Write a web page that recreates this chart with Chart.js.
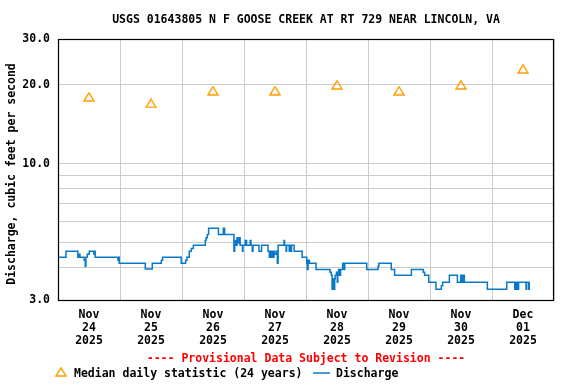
<!DOCTYPE html>
<html>
<head>
<meta charset="utf-8">
<script src="https://cdn.jsdelivr.net/npm/chart.js@4.4.0/dist/chart.umd.min.js"></script>
<style>
  html, body { margin: 0; padding: 0; background: #fff; }
</style>
</head>
<body>
<canvas id="chart" width="576" height="384"></canvas>
<script>
const siteTitle = 'USGS 01643805 N F GOOSE CREEK AT RT 729 NEAR LINCOLN, VA';
const yAxisTitle = 'Discharge, cubic feet per second';
const noticeText = '---- Provisional Data Subject to Revision ----';
const medianLabel = 'Median daily statistic (24 years)';
const dischargeLabel = 'Discharge';

// x values are hours after Nov 24 2025 00:00
const tickMonths = ['Nov', 'Nov', 'Nov', 'Nov', 'Nov', 'Nov', 'Nov', 'Dec'];
const tickDays = ['24', '25', '26', '27', '28', '29', '30', '01'];
const tickYears = ['2025', '2025', '2025', '2025', '2025', '2025', '2025', '2025'];

const medianHours = [12, 36, 60, 84, 108, 132, 156, 180];
const medianValues = [18, 17, 19, 19, 20, 19, 20, 23];

const dischargeHours = [
  0, 3.1, 7.7, 8.0, 8.5, 10.1, 10.55, 10.8, 11.3, 12.1, 13.9, 14.2, 14.4,
  23.2, 23.45, 23.7, 33.8, 36.5, 40.0, 40.5, 47.7, 49.4, 49.9, 50.8, 51.6, 52.4,
  57.0, 57.3, 57.8, 58.3, 62.1, 64.0, 64.5, 68.1, 68.4, 69.0, 69.3, 69.7, 70.1,
  70.5, 71.4, 71.6, 72.5, 73.0, 74.4, 74.7, 75.2, 75.5, 77.8, 78.8, 81.3, 81.8,
  82.1, 82.4, 82.8, 83.2, 83.6, 84.0, 84.7, 84.9, 85.2, 87.5, 87.7, 88.3, 88.5,
  89.5, 89.7, 90.2, 90.4, 91.4, 94.5, 96.3, 96.5, 96.8, 97.3, 99.9, 105.3,
  105.8, 106.1, 106.3, 106.8, 107.1, 107.3, 107.8, 108.1, 108.3, 108.6, 109.1,
  109.4, 110.2, 110.8, 111.0, 119.5, 123.9, 124.2, 129.0, 130.3, 136.8, 141.4,
  141.9, 143.5, 146.3, 148.4, 148.9, 151.5, 154.6, 155.9, 156.2, 156.8, 157.3,
  166.2, 173.7, 176.8, 177.3, 177.8, 178.3, 181.2, 181.4, 182.2, 182.4, 182.6
];
const dischargeValues = [
  4.37, 4.61, 4.37, 4.49, 4.37, 4.26, 4.04, 4.37, 4.49, 4.61, 4.49, 4.61, 4.37,
  4.26, 4.37, 4.15, 3.94, 4.15, 4.26, 4.37, 4.15, 4.26, 4.37, 4.61, 4.73, 4.86,
  5.07, 5.20, 5.35, 5.65, 5.35, 5.65, 5.35, 4.61, 5.07, 4.86, 5.20, 4.96, 5.20,
  4.86, 4.61, 4.86, 5.07, 4.86, 5.07, 4.86, 4.61, 4.86, 4.61, 4.86, 4.61, 4.37,
  4.61, 4.37, 4.61, 4.37, 4.61, 4.49, 4.61, 4.15, 4.86, 5.07, 4.86, 4.61, 4.86,
  4.61, 4.86, 4.61, 4.86, 4.61, 4.37, 4.15, 3.93, 4.26, 4.15, 3.93, 3.83,
  3.73, 3.30, 3.62, 3.30, 3.62, 3.73, 3.83, 3.51, 3.73, 3.93, 3.73,
  3.93, 4.15, 3.93, 4.15, 3.93, 4.04, 4.15, 3.93, 3.73, 3.93, 3.83,
  3.73, 3.51, 3.30, 3.40, 3.51, 3.73, 3.51, 3.73, 3.51, 3.73, 3.51,
  3.30, 3.51, 3.30, 3.51, 3.30, 3.51, 3.30, 3.51, 3.30, 3.51, 3.51
];

const yGridValues = [3, 4, 5, 6, 7, 8, 9, 10, 20, 30];
const yLabelValues = [3, 10, 20, 30];

const FONT = '"DejaVu Sans Mono", monospace';
const GRID = '#cccccc';
const ORANGE = '#ff9f00';
const BLUE = '#0a78c8';

function makeTriangle() {
  const c = document.createElement('canvas');
  c.width = 12;
  c.height = 10;
  const g = c.getContext('2d');
  g.strokeStyle = ORANGE;
  g.lineWidth = 1.4;
  g.beginPath();
  g.moveTo(6, 0.8);
  g.lineTo(11, 9);
  g.lineTo(1, 9);
  g.closePath();
  g.stroke();
  return c;
}
const triangle = makeTriangle();

const decorations = {
  id: 'decorations',
  afterDraw(chart) {
    const ctx = chart.ctx;
    const a = chart.chartArea;
    const cx = (a.left + a.right) / 2;
    ctx.save();

    ctx.strokeStyle = '#000';
    ctx.lineWidth = 1.2;
    ctx.strokeRect(a.left + 0.5, a.top + 0.5, a.right - a.left - 1, a.bottom - a.top);

    ctx.font = 'bold 11.5px ' + FONT;
    ctx.fillStyle = '#000';
    ctx.textAlign = 'center';
    ctx.textBaseline = 'middle';
    ctx.fillText(siteTitle, cx, 20);

    ctx.save();
    ctx.translate(12, 174);
    ctx.rotate(-Math.PI / 2);
    ctx.fillText(yAxisTitle, 0, 0);
    ctx.restore();

    ctx.fillStyle = '#ff0000';
    ctx.fillText(noticeText, cx, 359);

    ctx.drawImage(triangle, 61 - 6, 372 - 5);
    ctx.fillStyle = '#000';
    ctx.textAlign = 'left';
    ctx.fillText(medianLabel, 74, 374);
    ctx.strokeStyle = BLUE;
    ctx.lineWidth = 1.5;
    ctx.beginPath();
    ctx.moveTo(313, 373);
    ctx.lineTo(330, 373);
    ctx.stroke();
    ctx.fillText(dischargeLabel, 336, 374);

    ctx.restore();
  }
};

new Chart(document.getElementById('chart'), {
  type: 'line',
  data: {
    datasets: [
      {
        label: medianLabel,
        data: medianHours.map((h, i) => ({ x: h, y: medianValues[i] })),
        showLine: false,
        pointStyle: triangle,
        pointRadius: 5,
        pointHoverRadius: 5
      },
      {
        label: dischargeLabel,
        data: dischargeHours.map((h, i) => ({ x: h, y: dischargeValues[i] })),
        stepped: true,
        borderColor: BLUE,
        borderWidth: 1.5,
        pointRadius: 0,
        fill: false
      }
    ]
  },
  options: {
    responsive: false,
    animation: false,
    devicePixelRatio: 1,
    layout: { padding: { left: 0, right: 22, top: 39, bottom: 34 } },
    plugins: {
      legend: { display: false },
      title: { display: false },
      tooltip: { enabled: false }
    },
    scales: {
      x: {
        type: 'linear',
        min: 0,
        max: 192,
        afterBuildTicks: scale => {
          const ticks = [];
          for (let h = 0; h <= 192; h += 12) ticks.push({ value: h });
          scale.ticks = ticks;
        },
        afterFit: scale => { scale.height = 50; },
        border: { display: false },
        grid: {
          drawTicks: false,
          color: ctx => (ctx.tick && ctx.tick.value % 24 === 0) ? GRID : 'rgba(0,0,0,0)'
        },
        ticks: {
          autoSkip: false,
          maxRotation: 0,
          padding: 9,
          color: '#000',
          font: { family: FONT, size: 11.5, weight: 'bold', lineHeight: 1.13 },
          callback: value => {
            const i = (value - 12) / 24;
            if (Number.isInteger(i) && i >= 0 && i < tickDays.length) {
              return [tickMonths[i], tickDays[i], tickYears[i]];
            }
            return '';
          }
        }
      },
      y: {
        type: 'logarithmic',
        min: 3,
        max: 30,
        afterBuildTicks: scale => {
          scale.ticks = yGridValues.map(v => ({ value: v }));
        },
        afterFit: scale => { scale.width = 58; },
        border: { display: false },
        grid: { drawTicks: false, color: GRID },
        ticks: {
          autoSkip: false,
          padding: 8,
          color: '#000',
          font: { family: FONT, size: 11.5, weight: 'bold' },
          callback: value => yLabelValues.includes(value) ? value.toFixed(1) : ''
        }
      }
    }
  },
  plugins: [decorations]
});
</script>
</body>
</html>
